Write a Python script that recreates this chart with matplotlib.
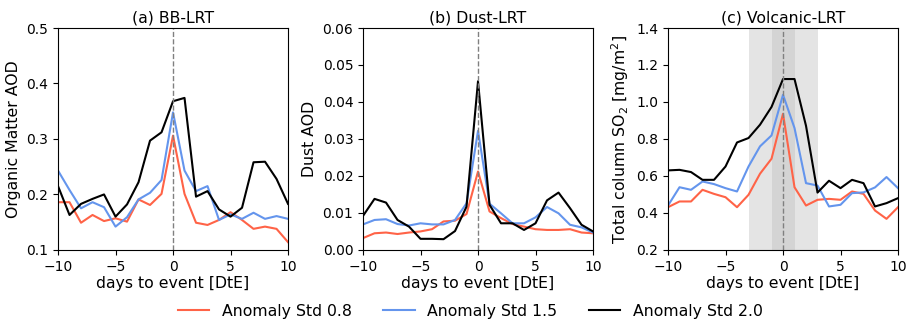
import matplotlib
matplotlib.use('Agg')
import matplotlib.pyplot as plt
import numpy as np

days = np.arange(-10, 11)

# (a) BB-LRT, organic matter AOD
bb_08 = [0.186, 0.186, 0.149, 0.163, 0.152, 0.157, 0.151, 0.191, 0.181, 0.201, 0.306,
         0.201, 0.149, 0.145, 0.154, 0.168, 0.154, 0.138, 0.142, 0.138, 0.114]
bb_15 = [0.243, 0.208, 0.175, 0.186, 0.177, 0.142, 0.159, 0.191, 0.203, 0.226, 0.348,
         0.243, 0.206, 0.215, 0.154, 0.164, 0.156, 0.167, 0.156, 0.161, 0.156]
bb_20 = [0.215, 0.163, 0.183, 0.192, 0.200, 0.160, 0.182, 0.222, 0.297, 0.312, 0.368,
         0.374, 0.196, 0.206, 0.173, 0.160, 0.176, 0.258, 0.259, 0.228, 0.183]

# (b) Dust-LRT, dust AOD
dust_08 = [0.0032, 0.0045, 0.0047, 0.0043, 0.0047, 0.0050, 0.0056, 0.0077, 0.0079, 0.0097, 0.0212,
           0.0104, 0.0086, 0.0070, 0.0063, 0.0056, 0.0054, 0.0054, 0.0056, 0.0047, 0.0045]
dust_15 = [0.0069, 0.0081, 0.0083, 0.0070, 0.0066, 0.0072, 0.0069, 0.0069, 0.0081, 0.0126, 0.0322,
           0.0125, 0.0099, 0.0072, 0.0072, 0.0088, 0.0116, 0.0099, 0.0068, 0.0061, 0.0047]
dust_20 = [0.0092, 0.0138, 0.0128, 0.0081, 0.0063, 0.0030, 0.0030, 0.0029, 0.0051, 0.0117, 0.0456,
           0.0122, 0.0072, 0.0072, 0.0054, 0.0072, 0.0134, 0.0155, 0.0113, 0.0068, 0.0050]

# (c) Volcanic-LRT, total column SO2
so2_08 = [0.431, 0.462, 0.462, 0.525, 0.503, 0.485, 0.431, 0.498, 0.612, 0.693, 0.936,
          0.539, 0.440, 0.471, 0.476, 0.471, 0.516, 0.503, 0.413, 0.368, 0.431]
so2_15 = [0.440, 0.539, 0.525, 0.570, 0.556, 0.534, 0.516, 0.651, 0.760, 0.819, 1.039,
          0.859, 0.561, 0.548, 0.435, 0.444, 0.507, 0.511, 0.538, 0.594, 0.534]
so2_20 = [0.630, 0.633, 0.621, 0.579, 0.579, 0.651, 0.781, 0.805, 0.877, 0.973, 1.124,
          1.124, 0.871, 0.510, 0.574, 0.534, 0.579, 0.561, 0.435, 0.453, 0.480]

labels = ['Anomaly Std 0.8', 'Anomaly Std 1.5', 'Anomaly Std 2.0']
colors = ['tomato', 'cornflowerblue', 'black']

panels = [
    ('(a) BB-LRT', 'Organic Matter AOD', [bb_08, bb_15, bb_20], (0.1, 0.5), np.arange(0.1, 0.51, 0.1)),
    ('(b) Dust-LRT', 'Dust AOD', [dust_08, dust_15, dust_20], (0.0, 0.06), np.arange(0, 0.061, 0.01)),
    ('(c) Volcanic-LRT', 'Total column SO$_2$ [mg/m$^2$]', [so2_08, so2_15, so2_20], (0.2, 1.4),
     np.arange(0.2, 1.41, 0.2)),
]

fs = 11.3
plt.rcParams['font.size'] = fs
plt.rcParams['xtick.labelsize'] = 10
plt.rcParams['ytick.labelsize'] = 10
fig = plt.figure(figsize=(9.08, 3.2), dpi=100)
lefts = [0.0639, 0.3998, 0.7357]

for i, (title, ylab, series, ylim, yt) in enumerate(panels):
    ax = fig.add_axes([lefts[i], 0.219, 0.2533, 0.6935])
    if i == 2:
        ax.axvspan(-3, 3, color='#e4e4e4', lw=0, zorder=0)
        ax.axvspan(-1, 1, color='#d4d4d4', lw=0, zorder=0)
    for s, c, lab in zip(series, colors, labels):
        ax.plot(days, s, color=c, lw=1.5, label=lab)
    ax.axvline(0, color='gray', linestyle='--', lw=1)
    ax.set_xlim(-10, 10)
    ax.set_ylim(*ylim)
    ax.set_yticks(yt)
    if i == 1:
        ax.set_yticklabels(['%.2f' % v for v in yt])
    else:
        ax.set_yticklabels(['%.1f' % v for v in yt])
    ax.set_xticks([-10, -5, 0, 5, 10])
    ax.set_title(title, fontsize=fs, pad=4)
    ax.set_xlabel('days to event [DtE]', labelpad=2)
    ax.set_ylabel(ylab)
    if i == 0:
        handles, labs = ax.get_legend_handles_labels()

fig.legend(handles, labs, loc='center', ncol=3, frameon=False, fontsize=fs,
           bbox_to_anchor=(0.518, 0.028), columnspacing=2.0)
plt.savefig('out.png', dpi=100)
